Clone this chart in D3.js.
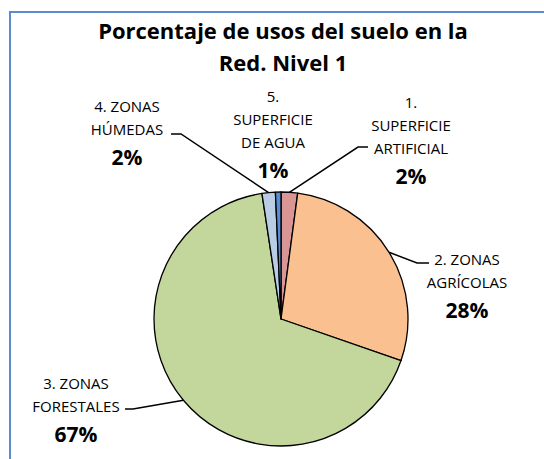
<!DOCTYPE html>
<html>
<head>
<meta charset="utf-8">
<script src="https://cdn.jsdelivr.net/npm/d3@7"></script>
<style>
  body { margin: 0; background: #fff; }
  text { font-family: "Open Sans", "Noto Sans", sans-serif; fill: #000; }
</style>
</head>
<body>
<div id="chart"></div>
<script>
// land use shares, Red Nivel 1
var categories = ["1. SUPERFICIE ARTIFICIAL", "2. ZONAS AGRÍCOLAS", "3. ZONAS FORESTALES", "4. ZONAS HÚMEDAS", "5. SUPERFICIE DE AGUA"];
var values = [2.1, 28.2, 67.3, 1.7, 0.7];
var pctLabels = ["2%", "28%", "67%", "2%", "1%"];
var labelLines = [["1.", "SUPERFICIE", "ARTIFICIAL"], ["2. ZONAS", "AGRÍCOLAS"], ["3. ZONAS", "FORESTALES"], ["4. ZONAS", "HÚMEDAS"], ["5.", "SUPERFICIE", "DE AGUA"]];
var colors = ["#D99694", "#FAC090", "#C3D69B", "#B9CDE5", "#558ED5"];

var width = 544,
    height = 459;

var cx = 281, cy = 319, radius = 127;

var svg = d3.select("#chart")
            .append("svg")
            .attr("width", width)
            .attr("height", height);

// chart frame
svg.append("path")
   .attr("d", "M 10," + height + " L 10,12 L " + width + ",12")
   .attr("fill", "none")
   .attr("stroke", "#5B8BD0")
   .attr("stroke-width", 2);

svg.append("text")
   .attr("x", 283)
   .attr("y", 39)
   .attr("text-anchor", "middle")
   .style("font-weight", "bold")
   .style("font-size", "22px")
   .text("Porcentaje de usos del suelo en la");

svg.append("text")
   .attr("x", 283)
   .attr("y", 71)
   .attr("text-anchor", "middle")
   .style("font-weight", "bold")
   .style("font-size", "22px")
   .text("Red. Nivel 1");

var pie = d3.pie().sort(null).value(function (d) { return d; });
var arcs = pie(values);

var arc = d3.arc().innerRadius(0).outerRadius(radius);
var edge = d3.arc().innerRadius(radius).outerRadius(radius);

var g = svg.append("g").attr("transform", "translate(" + cx + "," + cy + ")");

g.selectAll("path.slice")
  .data(arcs)
  .enter()
  .append("path")
  .attr("class", "slice")
  .attr("d", arc)
  .attr("fill", function (d, i) { return colors[i]; })
  .attr("stroke", "#000")
  .attr("stroke-width", 1.3)
  .attr("stroke-linejoin", "round");

// label placement (layout only): text centre x, first line y, leader elbow
var labelPos = [
  { x: 411, y: 108, elbow: [[358, 147], [368, 147]] },
  { x: 467, y: 265, elbow: [[417, 263], [429, 263]] },
  { x: 76,  y: 389, elbow: [[133, 409], [125, 409]] },
  { x: 127, y: 112, elbow: [[181, 134], [171, 134]] },
  { x: 273, y: 102, elbow: null }
];

var lineGap = 23;

arcs.forEach(function (d, i) {
  var p = labelPos[i];
  var lines = labelLines[i];
  var t = svg.append("g");
  lines.forEach(function (s, k) {
    t.append("text")
     .attr("x", p.x)
     .attr("y", p.y + k * lineGap)
     .attr("text-anchor", "middle")
     .style("font-size", "15px")
     .text(s);
  });
  t.append("text")
   .attr("x", p.x)
   .attr("y", p.y + (lines.length - 1) * lineGap + 30)
   .attr("text-anchor", "middle")
   .style("font-weight", "bold")
   .style("font-size", "21px")
   .text(pctLabels[i]);

  if (p.elbow) {
    var c = edge.centroid(d);
    var pts = [[cx + c[0], cy + c[1]]].concat(p.elbow);
    svg.append("path")
       .attr("d", d3.line()(pts))
       .attr("fill", "none")
       .attr("stroke", "#000")
       .attr("stroke-width", 1.5);
  }
});
</script>
</body>
</html>
